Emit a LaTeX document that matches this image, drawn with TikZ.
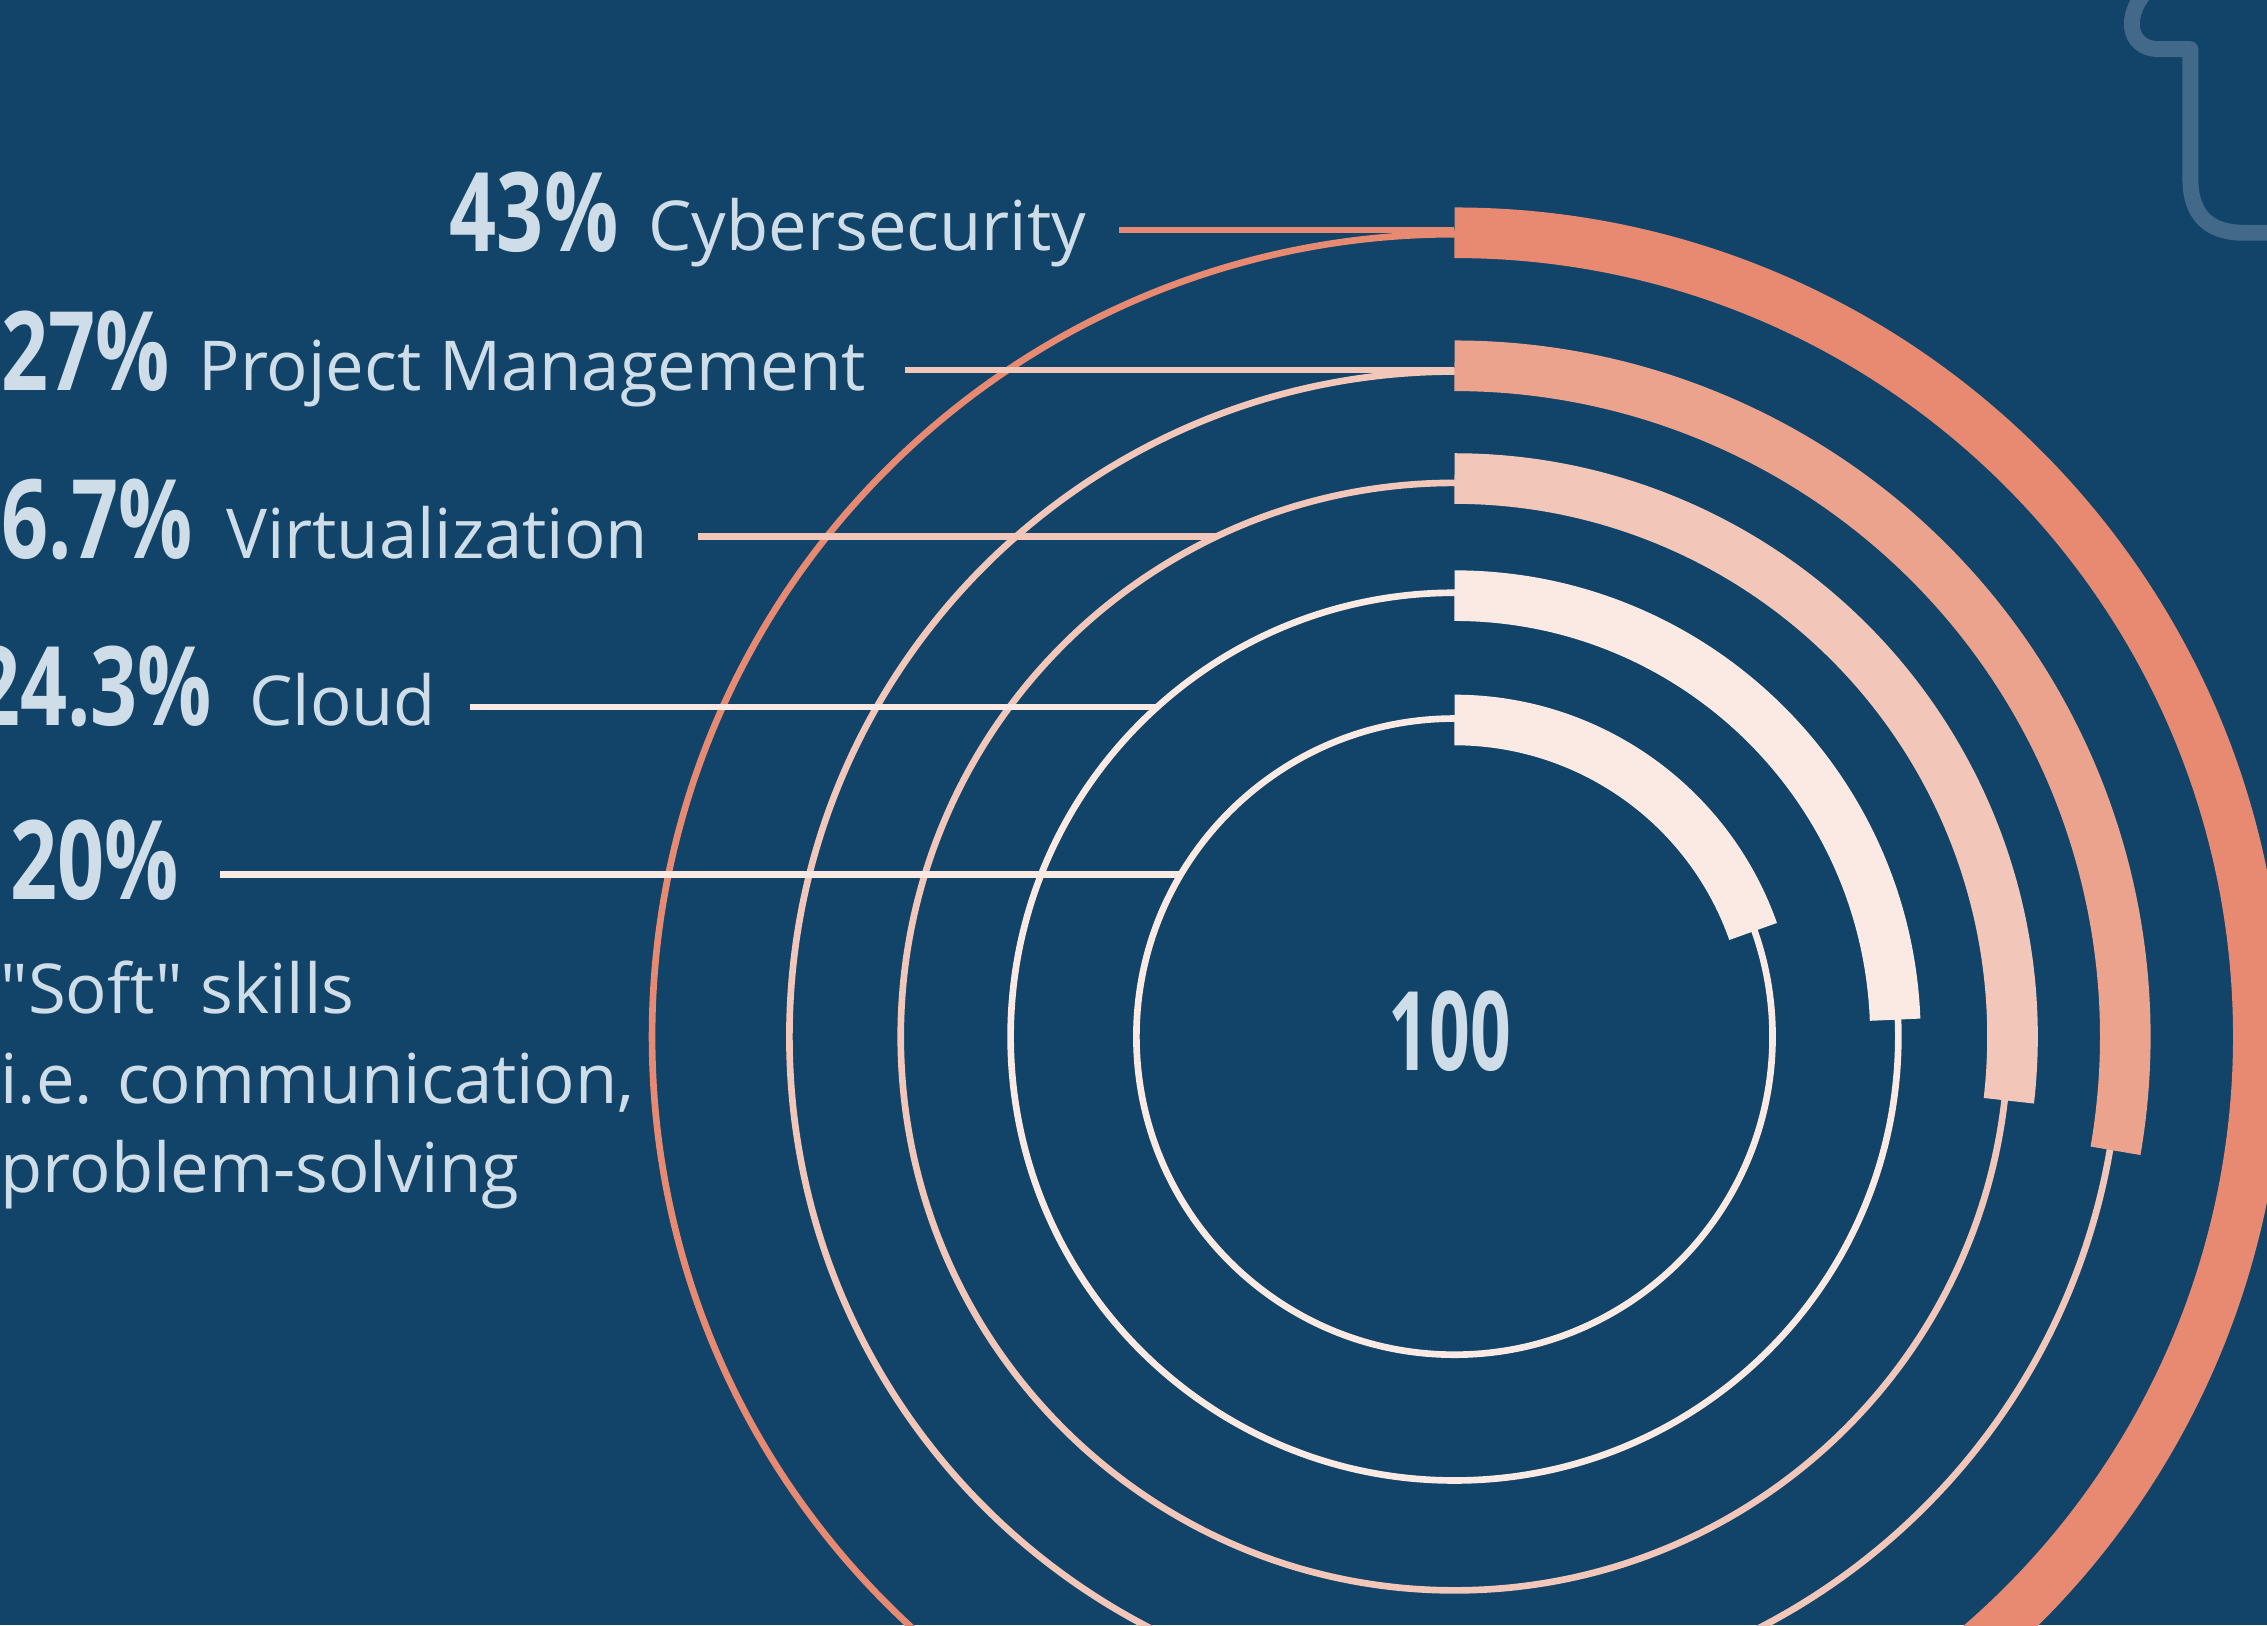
\documentclass[tikz,border=0pt]{standalone}
\usepackage{fontspec}
\setmainfont{Open Sans}
\usepackage{graphicx}
\usepackage{xcolor}
\usepackage{tikz}
\usetikzlibrary{calc}

\definecolor{navy}{HTML}{114468}
\definecolor{deco}{HTML}{43698A}
\definecolor{txt}{HTML}{CFDDE8}
\definecolor{salmon}{HTML}{E78A71}
\definecolor{rose}{HTML}{EBA38E}
\definecolor{blush}{HTML}{F2C7B9}
\definecolor{cream}{HTML}{FAEAE3}

\newcommand{\bignum}[2][0.75]{\scalebox{#1}[1]{\fontsize{38}{40}\selectfont\bfseries #2}}

\begin{document}
\begin{tikzpicture}[x=0.5pt, y=0.5pt,
  lbl/.style={text=txt, inner sep=0pt, font=\fontsize{23.8}{31}\selectfont},
  num/.style={text=txt, inner sep=0pt},
  ring/.style={line width=2.3pt},
  bar/.style={line width=17.5pt},
  link/.style={line width=2.3pt}]
  \useasboundingbox (0,0) rectangle (1568,1124);
  \clip (0,0) rectangle (1568,1124);
  \fill[navy] (0,0) rectangle (1568,1124);

  % corner decoration
  \draw[deco, line width=5.5pt, line join=round] (1486,1132) .. controls (1468,1113) and (1472,1091) .. (1492,1090) -- (1515,1090) -- (1515,1000) .. controls (1515,975) and (1528,963) .. (1552,963) -- (1580,963);

  \coordinate (C) at (1006,407);

  % labels
  \node[num, anchor=base east] (p1) at (428,950) {\bignum{43\%}};
  \node[lbl, anchor=base west] (cyb) at (448,951) {Cybersecurity};
  \node[num, anchor=base east] (p2) at (118,854) {\bignum{27\%}};
  \node[lbl, anchor=base west] (pm) at (137,854) {Project Management};
  \node[num, anchor=base east] (p3) at (134,738) {\bignum{26.7\%}};
  \node[lbl, anchor=base west] (virt) at (156,738) {Virtualization};
  \node[num, anchor=base east] (p4) at (147,622) {\bignum{24.3\%}};
  \node[lbl, anchor=base west] (cloud) at (172,622) {Cloud};
  \node[num, anchor=base east] (p5) at (124,502) {\bignum{20\%}};
  \node[lbl, anchor=base west, align=left] (soft) at (0,299) {\textquotedbl Soft\textquotedbl\ skills\\i.e. communication,\\problem-solving};
  \node[num] (hundred) at (1003,411) {\bignum[0.65]{100}};

  % thin rings
  \foreach \r/\c in {220/cream, 307/cream, 383/blush, 460/blush, 555/salmon}
    \draw[ring, \c] (C) circle[radius=\r];

  % connectors
  \coordinate (e1) at ($(C)+(90:558)$);
  \coordinate (e2) at ($(C)+(90:461)$);
  \coordinate (e3) at ($(C)+(115.4:383)$);
  \coordinate (e4) at ($(C)+(132.05:307)$);
  \coordinate (e5) at ($(C)+(149.4:220)$);
  \draw[link, salmon, shorten >=11pt] (e1) -- (e1 -| cyb.east);
  \draw[link, blush, shorten >=13.5pt] (e2) -- (e2 -| pm.east);
  \draw[link, blush, shorten >=17pt] (e3) -- (e3 -| virt.east);
  \draw[link, cream, shorten >=11.5pt] (e4) -- (e4 -| cloud.east);
  \draw[link, cream, shorten >=14pt] (e5) -- (e5 -| p5.east);

  % bars
  \foreach \r/\a/\c in {219/19.4/cream, 305/2.2/cream, 386/-6.6/blush, 464/-9.8/rose, 556/-64.8/salmon}
    \draw[bar, \c] (C) ++(90:\r) arc[start angle=90, end angle=\a, radius=\r];
\end{tikzpicture}
\end{document}
